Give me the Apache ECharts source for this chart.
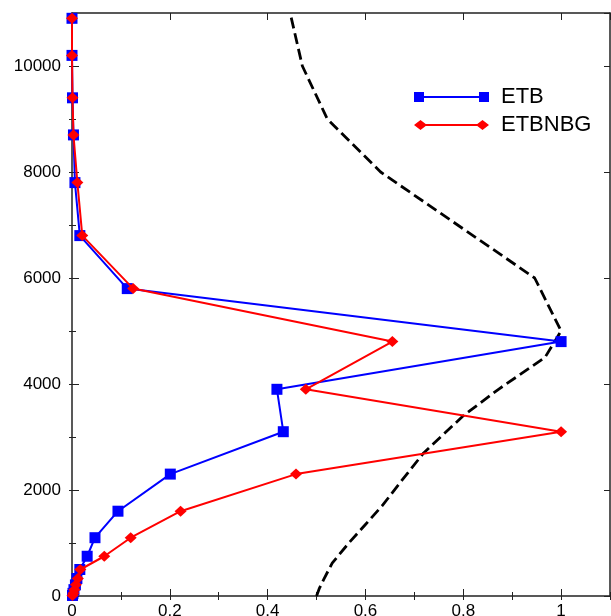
<!DOCTYPE html>
<html>
<head>
<meta charset="utf-8">
<script src="https://cdn.jsdelivr.net/npm/echarts@6/dist/echarts.min.js"></script>
<style>
  html, body { margin: 0; padding: 0; background: #fff; }
  #chart { width: 611px; height: 616px; }
</style>
</head>
<body>
<div id="chart"></div>
<script>
// Model levels (height) shared by the two normalized profiles
const heights = [10900, 10200, 9400, 8700, 7800, 6800, 5800, 4800, 3900, 3100, 2300, 1600, 1100, 750, 500, 330, 210, 120, 50, 10];
const etb     = [0.000, 0.000, 0.001, 0.003, 0.006, 0.016, 0.113, 1.000, 0.419, 0.432, 0.201, 0.094, 0.047, 0.031, 0.016, 0.010, 0.007, 0.004, 0.002, 0.001];
const etbnbg  = [0.000, 0.000, 0.001, 0.003, 0.011, 0.021, 0.125, 0.655, 0.478, 1.000, 0.458, 0.222, 0.120, 0.066, 0.017, 0.012, 0.008, 0.005, 0.003, 0.001];

// Reference profile (dashed)
const refX = [0.500, 0.506, 0.515, 0.532, 0.566, 0.600, 0.634, 0.676, 0.719, 0.800, 0.872, 0.967, 1.000, 0.946, 0.631, 0.522, 0.471, 0.446];
const refY = [0, 150, 320, 620, 1000, 1350, 1700, 2200, 2700, 3400, 3900, 4500, 5000, 6000, 8000, 9000, 10000, 11000];

// Axis ticks
const xMin = 0, xMax = 1.1, xMajor = 0.2, xMinor = 0.1;
const yMin = 0, yMax = 11000, yMajor = 2000, yMinor = 1000;

const pairs = (xs, ys) => xs.map((x, i) => [x, ys[i]]);

const FONT = 'Liberation Sans';
const AX = '#222';

function xAx(position, interval, len, opts) {
  return Object.assign({
    type: 'value', position, min: xMin, max: xMax, interval,
    axisLine: { show: false },
    axisTick: { show: true, inside: true, length: len, lineStyle: { color: AX, width: 1 } },
    axisLabel: { show: false },
    splitLine: { show: false }
  }, opts || {});
}
function yAx(position, interval, len, opts) {
  return Object.assign({
    type: 'value', position, min: yMin, max: yMax, interval,
    axisLine: { show: false },
    axisTick: { show: true, inside: true, length: len, lineStyle: { color: AX, width: 1 } },
    axisLabel: { show: false },
    splitLine: { show: false }
  }, opts || {});
}

const squaresIcon = 'path://M0,0h10v10h-10z M10,4h55v2h-55z M65,0h10v10h-10z';
const diamondsIcon = 'path://M0,5L6.5,0L13,5L6.5,10z M10,4h55v2h-55z M62,5L68.5,0L75,5L68.5,10z';

const chart = echarts.init(document.getElementById('chart'), null, { renderer: 'canvas' });
chart.setOption({
  animation: false,
  backgroundColor: '#fff',
  textStyle: { fontFamily: FONT },
  grid: { left: 72, top: 13, right: 1, bottom: 20, containLabel: false, outerBoundsMode: 'none' },
  legend: {
    orient: 'vertical', left: 414, top: 86, padding: 0,
    itemWidth: 75, itemHeight: 10, itemGap: 6,
    textStyle: { fontFamily: FONT, fontSize: 22, lineHeight: 22, color: '#000', padding: [0, 0, 0, 7] },
    data: [
      { name: 'ETB', icon: squaresIcon },
      { name: 'ETBNBG', icon: diamondsIcon }
    ]
  },
  xAxis: [
    xAx('bottom', xMajor, 7, {
      axisLine: { show: true, onZero: false, lineStyle: { color: AX, width: 1.5 } },
      axisLabel: { show: true, margin: 7, fontSize: 17, color: '#000', fontFamily: FONT, showMaxLabel: false,
                   formatter: v => String(+v.toFixed(1)) }
    }),
    xAx('bottom', xMinor, 4),
    xAx('top', xMajor, 7, { axisLine: { show: true, onZero: false, lineStyle: { color: AX, width: 1.5 } } }),
    xAx('top', xMinor, 4)
  ],
  yAxis: [
    yAx('left', yMajor, 7, {
      axisLine: { show: true, onZero: false, lineStyle: { color: AX, width: 1.5 } },
      axisLabel: { show: true, margin: 11, fontSize: 17, color: '#000', fontFamily: FONT, showMaxLabel: false,
                   formatter: v => String(Math.round(v)) }
    }),
    yAx('left', yMinor, 4),
    yAx('right', yMajor, 6, { axisLine: { show: true, onZero: false, lineStyle: { color: AX, width: 1.5 } } }),
    yAx('right', yMinor, 3)
  ],
  series: [
    {
      name: 'reference', type: 'line', xAxisIndex: 0, yAxisIndex: 0,
      data: pairs(refX, refY), showSymbol: false, symbol: 'none',
      lineStyle: { color: '#000', width: 2.8, type: [11, 5] }, z: 2, silent: true
    },
    {
      name: 'ETB', type: 'line', xAxisIndex: 0, yAxisIndex: 0,
      data: pairs(etb, heights), symbol: 'rect', symbolSize: 11,
      color: '#0000ff', itemStyle: { color: '#0000ff' },
      lineStyle: { color: '#0000ff', width: 2 }, z: 3
    },
    {
      name: 'ETBNBG', type: 'line', xAxisIndex: 0, yAxisIndex: 0,
      data: pairs(etbnbg, heights), symbol: 'diamond', symbolSize: [12, 11],
      color: '#ff0000', itemStyle: { color: '#ff0000' },
      lineStyle: { color: '#ff0000', width: 2 }, z: 4
    }
  ]
});
</script>
</body>
</html>
